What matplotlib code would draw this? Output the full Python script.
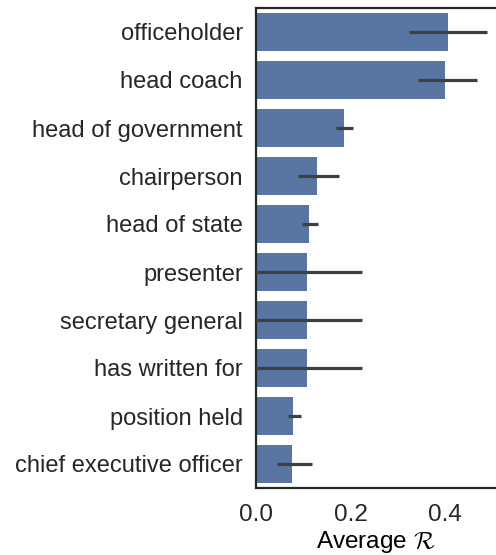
import matplotlib.pyplot as plt
import numpy as np

# data
relations = ["officeholder", "head coach", "head of government", "chairperson",
             "head of state", "presenter", "secretary general", "has written for",
             "position held", "chief executive officer"]
avg_r = [0.406, 0.400, 0.187, 0.130, 0.112, 0.109, 0.109, 0.109, 0.079, 0.077]
ci_low = [0.323, 0.343, 0.169, 0.089, 0.097, -0.005, -0.005, -0.005, 0.067, 0.044]
ci_high = [0.490, 0.467, 0.206, 0.175, 0.132, 0.225, 0.225, 0.225, 0.095, 0.118]

plt.rcParams['font.family'] = ['Liberation Sans', 'DejaVu Sans']
plt.rcParams['mathtext.fontset'] = 'cm'

fig = plt.figure(figsize=(4.96, 5.55), dpi=100)
ax = fig.add_axes([256/496, 67/555, 240/496, 480/555])

y = np.arange(len(relations))
ax.barh(y, avg_r, height=0.8, color="#5975a4")
ax.hlines(y, ci_low, ci_high, color="#3f3f3f", lw=2.3, zorder=3)

ax.set_yticks(y)
ax.set_yticklabels(relations, fontsize=17)
ax.set_ylim(len(relations) - 0.5, -0.5)
ax.set_xlim(0, 0.508)
ax.set_xticks([0.0, 0.2, 0.4])
ax.set_xticklabels(["0.0", "0.2", "0.4"], fontsize=17.5)
ax.tick_params(axis="y", length=0, pad=9.5)
ax.tick_params(axis="x", length=0, pad=11.5)
ax.set_xlabel(r"Average $\mathcal{R}$", fontsize=17.5, labelpad=2)

for s in ["left", "bottom", "top"]:
    ax.spines[s].set_linewidth(1.6)
    ax.spines[s].set_color("#262626")
ax.spines["right"].set_visible(False)
ax.tick_params(colors="#262626")

fig.savefig("out.png", dpi=100)
